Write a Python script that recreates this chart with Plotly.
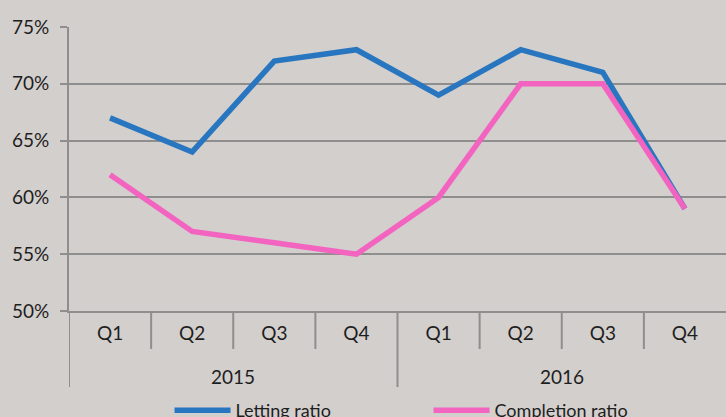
import plotly.graph_objects as go

quarters = ["Q1", "Q2", "Q3", "Q4", "Q1", "Q2", "Q3", "Q4"]
years = ["2015", "2016"]
letting_ratio = [67, 64, 72, 73, 69, 73, 71, 59]
completion_ratio = [62, 57, 56, 55, 60, 70, 70, 59]

BG = "#d3cfcc"
GRID = "#8e8e8e"
FONT = "Lato"
TXT = "#1e1e1e"

idx = list(range(len(quarters)))
H = 284.0  # plot-area height in px

fig = go.Figure()
fig.add_trace(go.Scatter(
    x=idx, y=letting_ratio, mode="lines", name="Letting ratio",
    line=dict(color="#2876c0", width=5.5)))
fig.add_trace(go.Scatter(
    x=idx, y=completion_ratio, mode="lines", name="Completion ratio",
    line=dict(color="#f264c0", width=5.5)))

shapes = []
for k in range(len(quarters)):
    b = k - 0.5
    long = (k % 4 == 0)
    shapes.append(dict(type="line", xref="x", yref="paper", x0=b, x1=b,
                       y0=0, y1=-(76 if long else 38) / H,
                       line=dict(color=GRID, width=2)))

annotations = []
for j, yr in enumerate(years):
    annotations.append(dict(x=1.5 + 4 * j, y=-(376 - 311) / H, xref="x", yref="paper",
                            text=yr, showarrow=False, yanchor="middle",
                            font=dict(family=FONT, size=19, color=TXT)))

fig.update_layout(
    width=726, height=417,
    margin=dict(l=69, r=0, t=27, b=106, autoexpand=False),
    paper_bgcolor=BG, plot_bgcolor=BG,
    font=dict(family=FONT, size=19, color=TXT),
    showlegend=True,
    legend=dict(orientation="h", x=0.153, y=-0.285, xanchor="left", yanchor="top",
                bgcolor="rgba(0,0,0,0)", font=dict(size=18), itemwidth=56,
                entrywidth=188, entrywidthmode="pixels"),
    shapes=shapes,
    annotations=annotations,
    xaxis=dict(
        range=[-0.5, 7.5], tickvals=idx, ticktext=quarters, showgrid=False,
        ticks="", ticklabelstandoff=4, showline=True, linecolor=GRID, linewidth=2,
        zeroline=False, tickfont=dict(size=19)),
    yaxis=dict(
        range=[50, 75], dtick=5, ticksuffix="%", showgrid=True, gridcolor=GRID,
        gridwidth=2, ticks="outside", ticklen=7, tickcolor=GRID, tickwidth=2,
        showline=True, linecolor=GRID, linewidth=2, zeroline=False,
        ticklabelstandoff=7, tickfont=dict(size=19)),
)

fig.write_html("out.html", config={"displayModeBar": False},
               post_script="document.body.style.margin='0';")
